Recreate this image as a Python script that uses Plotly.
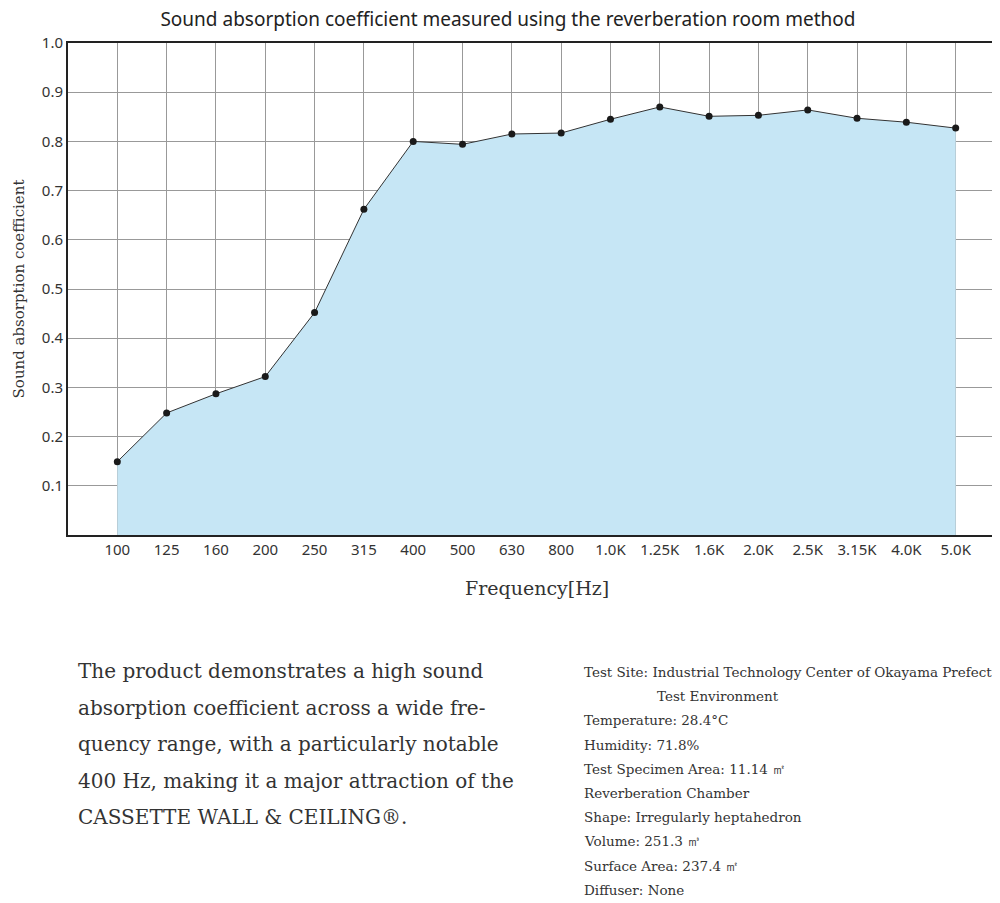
import plotly.graph_objects as go

freqs = ["100", "125", "160", "200", "250", "315", "400", "500", "630", "800",
         "1.0K", "1.25K", "1.6K", "2.0K", "2.5K", "3.15K", "4.0K", "5.0K"]
alpha = [0.149, 0.248, 0.287, 0.322, 0.452, 0.662, 0.800, 0.794, 0.815, 0.817,
         0.845, 0.870, 0.851, 0.853, 0.864, 0.847, 0.839, 0.827]

left_lines = [
    "The product demonstrates a high sound",
    "absorption coefficient across a wide fre-",
    "quency range, with a particularly notable",
    "400 Hz, making it a major attraction of the",
    "CASSETTE WALL &amp; CEILING®.",
]
right_lines = [
    "Test Site: Industrial Technology Center of Okayama Prefecture",
    "&nbsp;" * 17 + "Test Environment",
    "Temperature: 28.4°C",
    "Humidity: 71.8%",
    "Test Specimen Area: 11.14 ㎡",
    "Reverberation Chamber",
    "Shape: Irregularly heptahedron",
    "Volume: 251.3 ㎥",
    "Surface Area: 237.4 ㎡",
    "Diffuser: None",
]

serif = "DejaVu Serif, serif"
x = list(range(len(freqs)))

fig = go.Figure(go.Scatter(
    x=x, y=alpha, mode="lines+markers", fill="tozeroy",
    fillcolor="#c6e6f5", line=dict(color="#333333", width=1),
    marker=dict(color="#1a1a1a", size=7),
))

# plot area spans 492 px vertically (y=35..527), 937 px wide (x=60..997)
H = 492.0
W = 937.0
ann = []
for i, t in enumerate(left_lines):
    py = 663 + i * 36.5
    ann.append(dict(x=(68 - 60) / W, xanchor="left", xref="paper", yref="paper",
                    y=(527 - py) / H, yanchor="middle", text=t, showarrow=False,
                    font=dict(family=serif, size=20, color="#333333")))
for i, t in enumerate(right_lines):
    py = 664 + i * 24.2
    ann.append(dict(x=(574 - 60) / W, xanchor="left", xref="paper", yref="paper",
                    y=(527 - py) / H, yanchor="middle", text=t,
                    showarrow=False, font=dict(family=serif, size=13.5, color="#333333")))
ann.append(dict(x=0.5, xref="paper", yref="paper", y=(527 - 580) / H, yanchor="middle",
                text="Frequency[Hz]", showarrow=False,
                font=dict(family=serif, size=19, color="#333333")))

fig.update_layout(
    width=1000, height=903,
    margin=dict(l=60, r=3, t=35, b=376),
    plot_bgcolor="white", paper_bgcolor="white",
    showlegend=False,
    title=dict(text="Sound absorption coefficient measured using the reverberation room method",
               x=0.5, xanchor="center", y=0.987, yanchor="middle",
               font=dict(family="Noto Sans, sans-serif", size=19, color="#222222")),
    xaxis=dict(tickvals=x, ticktext=freqs, range=[-1, 18], showgrid=True,
               gridcolor="#999999", gridwidth=1, showline=True, linecolor="#222222",
               linewidth=2, mirror=True, ticks="", zeroline=False, automargin=False,
               tickfont=dict(family="Noto Sans, sans-serif", size=15, color="#333333")),
    yaxis=dict(range=[0, 1.0], tickvals=[0.1 * k for k in range(1, 11)],
               ticktext=[f"{0.1 * k:.1f}" for k in range(1, 11)],
               showgrid=True, gridcolor="#999999", gridwidth=1, showline=True,
               linecolor="#222222", linewidth=2, mirror=True, ticks="", zeroline=False,
               automargin=False,
               tickfont=dict(family="Noto Sans, sans-serif", size=15, color="#333333"),
               title=dict(text="Sound absorption coefficient", standoff=14,
                          font=dict(family=serif, size=15, color="#333333"))),
    annotations=ann,
)

fig.write_html("out.html")
